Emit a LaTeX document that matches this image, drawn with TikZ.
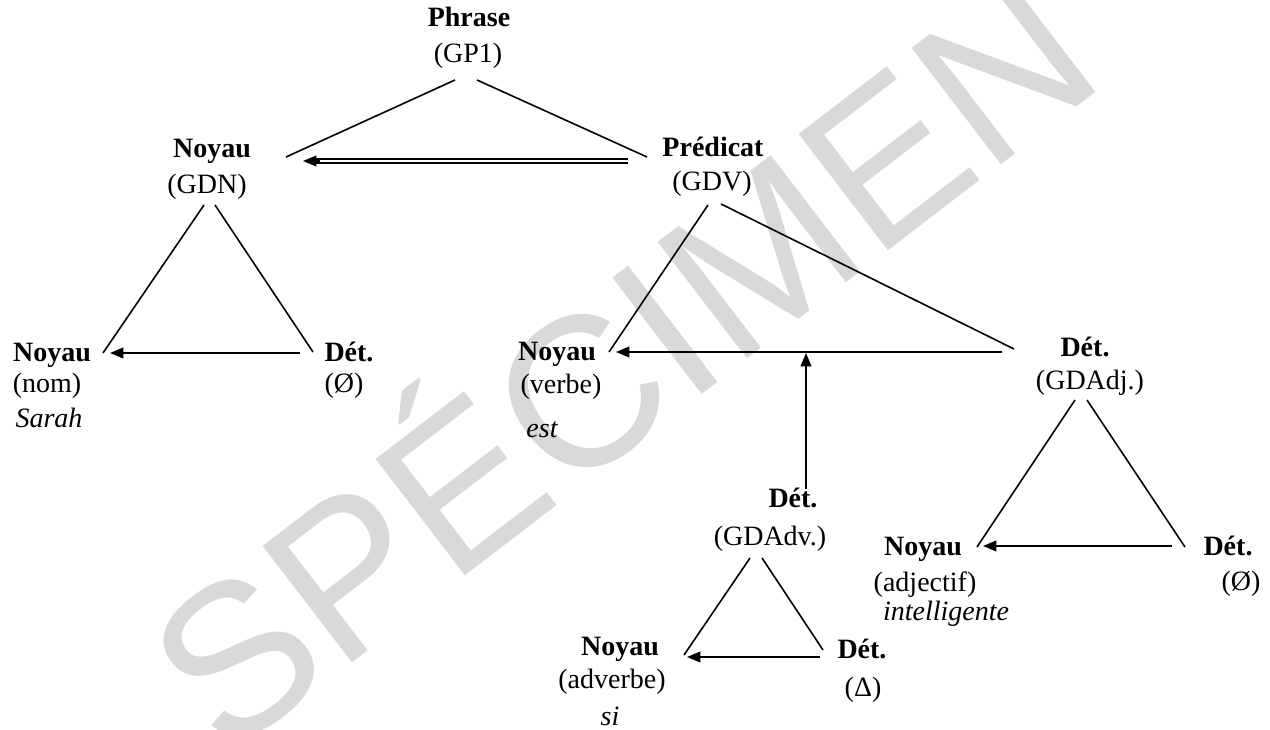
\documentclass[tikz,border=0pt]{standalone}
\usepackage{fontspec}
\setmainfont{Liberation Serif}
\newfontfamily\wmfont{Liberation Sans}
\usetikzlibrary{arrows.meta}
\begin{document}
\begin{tikzpicture}[x=0.75pt,y=-0.75pt,
  lbl/.style={anchor=base, inner sep=0pt, font=\fontsize{21}{25}\selectfont},
  hd/.style={anchor=base, inner sep=0pt, font=\fontsize{21}{25}\selectfont\bfseries},
  ex/.style={anchor=base, inner sep=0pt, font=\fontsize{21}{25}\selectfont\itshape},
  edge/.style={line width=1.2pt},
  arr/.style={line width=1.4pt, -{Triangle[length=10pt,width=8pt]}},
  dbl/.style={line width=1pt},
  wm/.style={rotate=37.5, text=black!15, inner sep=0pt, font=\fontsize{160}{160}\selectfont\wmfont}
]
\useasboundingbox (0,0) rectangle (1270,730);
% watermark
\node[wm] (water) at (612,348) {SPÉCIMEN};

% labels
\node[hd]  (phr)   at (469,27)  {Phrase};
\node[lbl] (gp1)   at (468,63)  {(GP1)};
\node[hd]  (noyN)  at (212,158) {Noyau};
\node[lbl] (gdn)   at (207,194) {(GDN)};
\node[hd]  (pred)  at (713,157) {Prédicat};
\node[lbl] (gdv)   at (712,191) {(GDV)};
\node[hd]  (noyNom) at (52,362) {Noyau};
\node[lbl] (nom)   at (47,393)  {(nom)};
\node[ex]  (sarah) at (49,428)  {Sarah};
\node[hd]  (detA)  at (349,362) {Dét.};
\node[lbl] (zeroA) at (344,393) {(Ø)};
\node[hd]  (noyV)  at (557,361) {Noyau};
\node[lbl] (verbe) at (561,394) {(verbe)};
\node[ex]  (est)   at (542,438) {est};
\node[hd]  (detAdj) at (1085,357) {Dét.};
\node[lbl] (gdadj) at (1090,390) {(GDAdj.)};
\node[hd]  (noyAdj) at (923,555) {Noyau};
\node[lbl] (adjf)  at (925,591) {(adjectif)};
\node[ex]  (intel) at (946,620) {intelligente};
\node[hd]  (detB)  at (1228,555) {Dét.};
\node[lbl] (zeroB) at (1241,590) {(Ø)};
\node[hd]  (detAdv) at (793,507) {Dét.};
\node[lbl] (gdadv) at (770,545) {(GDAdv.)};
\node[hd]  (noyAdv) at (620,655) {Noyau};
\node[lbl] (adverbe) at (612,688) {(adverbe)};
\node[ex]  (si)    at (610,725) {si};
\node[hd]  (detC)  at (862,658) {Dét.};
\node[lbl] (delta) at (863,696) {(Δ)};

% endpoints
\coordinate (pL) at (455,80);  \coordinate (pLe) at (286,157);
\coordinate (pR) at (477,80);  \coordinate (pRe) at (647,157);
\coordinate (d1s) at (628,159); \coordinate (d1e) at (314,159);
\coordinate (d2s) at (628,163); \coordinate (d2e) at (314,163);
\coordinate (dtb) at (320,161); \coordinate (dtip) at (303,161);

\coordinate (nL) at (204,205); \coordinate (nLe) at (103,353);
\coordinate (nR) at (215,205); \coordinate (nRe) at (313,352);
\coordinate (nA) at (300,353); \coordinate (nAt) at (110,353);

\coordinate (vL) at (708,205); \coordinate (vLe) at (609,352);
\coordinate (vR) at (721,204); \coordinate (vRe) at (1014,349);
\coordinate (vA) at (1002,352); \coordinate (vAt) at (616,352);
\coordinate (uA) at (806,489); \coordinate (uAt) at (806,353);

\coordinate (jL) at (1075,400); \coordinate (jLe) at (977,547);
\coordinate (jR) at (1087,400); \coordinate (jRe) at (1185,547);
\coordinate (jA) at (1172,546); \coordinate (jAt) at (983,546);

\coordinate (aL) at (750,558); \coordinate (aLe) at (684,655);
\coordinate (aR) at (762,558); \coordinate (aRe) at (823,650);
\coordinate (aA) at (820,657); \coordinate (aAt) at (687,657);

% connectors
\draw[edge] (pL) -- (pLe);
\draw[edge] (pR) -- (pRe);
\draw[dbl] (d1s) -- (d1e);
\draw[dbl] (d2s) -- (d2e);
\draw[arr] (dtb) -- (dtip);

\draw[edge] (nL) -- (nLe);
\draw[edge] (nR) -- (nRe);
\draw[arr] (nA) -- (nAt);

\draw[edge] (vL) -- (vLe);
\draw[edge] (vR) -- (vRe);
\draw[arr] (vA) -- (vAt);
\draw[arr] (uA) -- (uAt);

\draw[edge] (jL) -- (jLe);
\draw[edge] (jR) -- (jRe);
\draw[arr] (jA) -- (jAt);

\draw[edge] (aL) -- (aLe);
\draw[edge] (aR) -- (aRe);
\draw[arr] (aA) -- (aAt);
\end{tikzpicture}
\end{document}
